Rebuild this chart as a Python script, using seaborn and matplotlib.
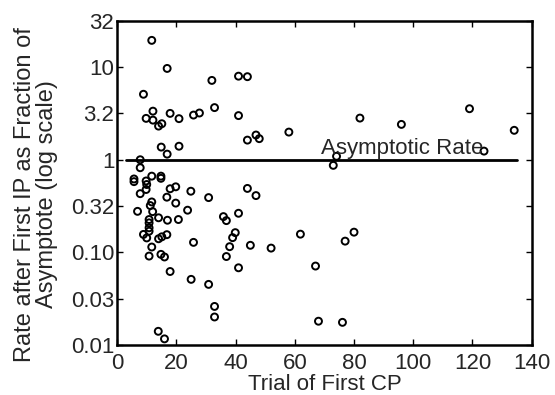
import numpy as np
import pandas as pd
import matplotlib
matplotlib.use("Agg")
import matplotlib.pyplot as plt
import seaborn as sns

# trial of first CP and rate after first IP (fraction of asymptote)
trial = [11.7, 16.9, 8.9, 12.1, 9.8, 12.1, 14.0, 15.1, 17.9, 20.9, 25.8, 27.8,
         32.0, 32.9, 41.0, 44.0, 41.0, 44.0, 46.9, 48.0, 58.0, 82.0, 96.0,
         119.0, 134.1, 123.9, 74.1, 14.9, 16.9, 20.9, 7.8,
         7.8, 73.0, 5.7, 5.7, 9.8, 11.7, 14.8, 14.8, 10.0, 9.8, 7.8, 17.9,
         19.8, 16.8, 24.9, 30.9, 11.7, 11.2, 19.8, 6.9, 12.0, 23.8, 14.0,
         17.0, 20.7, 10.8, 10.8, 10.8, 10.8, 8.9, 10.0, 14.0, 15.1, 16.8,
         25.8, 11.7, 10.8, 14.8, 16.0, 17.9, 25.0, 30.9, 32.9, 32.9, 13.9,
         16.0, 44.0, 46.9, 35.9, 36.9, 41.0, 39.9, 39.0, 38.0, 36.9, 41.0,
         45.0, 52.0, 61.9, 77.0, 80.0, 67.0, 68.0, 76.1]
rate = [19.5, 9.7, 5.1, 3.35, 2.8, 2.68, 2.31, 2.45, 3.17, 2.78, 3.04, 3.2,
        7.2, 3.66, 8.0, 7.9, 3.0, 1.63, 1.85, 1.69, 1.99, 2.82, 2.41,
        3.56, 2.08, 1.24, 1.09, 1.37, 1.15, 1.40, 1.0,
        0.82, 0.87, 0.62, 0.58, 0.59, 0.665, 0.665, 0.63, 0.54, 0.477, 0.43,
        0.486, 0.51, 0.394, 0.457, 0.39, 0.35, 0.32, 0.34, 0.277, 0.275,
        0.285, 0.236, 0.222, 0.226, 0.226, 0.208, 0.184, 0.169, 0.156,
        0.143, 0.14, 0.147, 0.155, 0.128, 0.114, 0.091, 0.095, 0.089,
        0.062, 0.051, 0.045, 0.026, 0.020, 0.014, 0.0116, 0.49, 0.41,
        0.243, 0.22, 0.264, 0.163, 0.144, 0.115, 0.090, 0.068, 0.119,
        0.111, 0.157, 0.132, 0.165, 0.071, 0.018, 0.0175]

ytick_vals = [0.01, 10**-1.5, 0.1, 10**-0.5, 1, 10**0.5, 10, 10**1.5]
ytick_labels = ['0.01', '0.03', '0.10', '0.32', '1', '3.2', '10', '32']
xtick_vals = [0, 20, 40, 60, 80, 100, 120, 140]

df = pd.DataFrame({'trial': trial, 'rate': rate})

sns.set_style('white')
plt.rcParams['font.family'] = ['Liberation Sans', 'DejaVu Sans']

fig = plt.figure(figsize=(5.55, 3.95), dpi=100)
ax = fig.add_axes([0.211, 0.127, 0.747, 0.820])

sns.scatterplot(data=df, x='trial', y='rate', ax=ax, marker='o', s=25,
                facecolor='none', edgecolor='black', linewidth=1.4, zorder=3)
ax.plot([3, 135], [1, 1], color='black', lw=2, zorder=2)
ax.text(69, 1.02, 'Asymptotic Rate', fontsize=16, ha='left', va='bottom')

ax.set_yscale('log')
ax.set_xlim(0, 140)
ax.set_ylim(0.01, 10**1.5)
ax.set_yticks(ytick_vals)
ax.set_yticklabels(ytick_labels)
ax.minorticks_off()
ax.set_xticks(xtick_vals)
ax.tick_params(direction='in', length=4, width=1, labelsize=16,
               top=True, right=True, bottom=True, left=True, color='black')
ax.tick_params(axis='x', pad=6)
ax.tick_params(axis='y', pad=2)
for sp in ax.spines.values():
    sp.set_linewidth(1.8)
    sp.set_color('black')

ax.set_xlabel('Trial of First CP', fontsize=16, labelpad=0)
ax.set_ylabel('Rate after First IP as Fraction of\nAsymptote (log scale)',
              fontsize=17, linespacing=1.0)
ax.yaxis.set_label_coords(-0.142, 0.465)

fig.savefig('out.png', dpi=100)
